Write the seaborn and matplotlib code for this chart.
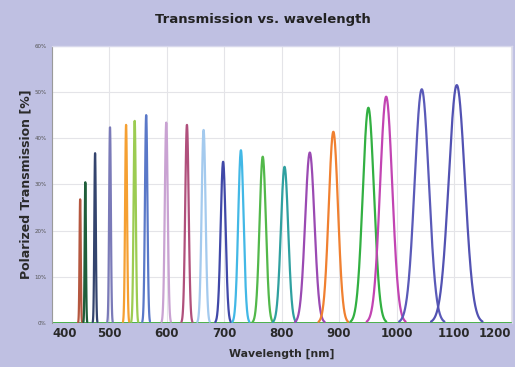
import numpy as np
import pandas as pd
import matplotlib
matplotlib.use("Agg")
import matplotlib.pyplot as plt
import seaborn as sns

# ---- data ----
centers = [449, 458, 475, 501, 529, 544, 564, 599, 635, 664,
           698, 729, 767, 805, 849, 890, 951, 982, 1044, 1105]
peaks = [26.8, 30.5, 36.8, 42.4, 42.9, 43.8, 45.0, 43.4, 42.9, 41.8,
         34.9, 37.4, 36.0, 33.8, 36.9, 41.4, 46.6, 49.0, 50.6, 51.5]
fwhm = [2.5, 2.5, 3, 3.5, 4, 4.5, 5, 6, 7, 8,
        10, 11, 13, 15, 19, 19, 23, 25, 29, 33]
colors = ["#b5573f", "#1f5e3a", "#34446e", "#7a7ab8", "#f5a032", "#9ccc52",
          "#5a78c8", "#c9a2d2", "#b0507c", "#a4caee", "#4048a8", "#42b8e6",
          "#52b84a", "#2fa0a0", "#9a4ab2", "#f08030", "#32b042", "#c244b2",
          "#5a5ab8", "#5252b2"]
x_ticks = [400, 500, 600, 700, 800, 900, 1000, 1100, 1200]
y_ticks = [0, 10, 20, 30, 40, 50, 60]

# ---- build curves ----
rows = []
for i, (c, p, w) in enumerate(zip(centers, peaks, fwhm)):
    s = w / 2.3548
    wl = np.arange(c - 3.2 * s, c + 3.2 * s + 0.01, min(0.2, s / 8))
    t = p * np.exp(-0.5 * ((wl - c) / s) ** 2)
    for a, b in zip(wl, t):
        rows.append((i, a, b))
df = pd.DataFrame(rows, columns=["filter", "wavelength", "transmission"])

sns.set_theme(style="white")
bg = "#bfc0e2"
fig = plt.figure(figsize=(5.15, 3.67), dpi=100, facecolor=bg)
ax = fig.add_axes([0.101, 0.120, 0.893, 0.755])
ax.set_facecolor("white")

ax.set_xlim(400, 1201)
ax.set_ylim(0, 60)
ax.set_xticks(x_ticks)
ax.set_yticks(y_ticks)
ax.grid(True, color="#e4e4e8", linewidth=0.8)
ax.set_axisbelow(True)

ax.axhline(0, color="#3aa83a", linewidth=2.0, zorder=1)
sns.lineplot(data=df, x="wavelength", y="transmission", hue="filter",
             palette=colors, linewidth=1.6, legend=False, ax=ax,
             estimator=None, sort=False, zorder=3)

labels = ax.set_xticklabels([str(v) for v in x_ticks], fontsize=8.5,
                            fontweight="bold", color="#2a2a2a")
labels[0].set_horizontalalignment("left")
labels[-1].set_horizontalalignment("right")
ax.set_yticklabels([f"{v}%" for v in y_ticks], fontsize=4,
                   color="#555555")
ax.tick_params(axis="x", length=0, pad=3)
ax.tick_params(axis="y", length=2, pad=2, color="#888888")

for side in ["top", "right"]:
    ax.spines[side].set_color("#d8d8ec")
    ax.spines[side].set_linewidth(1.0)
ax.spines["left"].set_color("#9a9a9a")
ax.spines["left"].set_linewidth(0.8)
ax.spines["bottom"].set_visible(False)

ax.set_xlabel("Wavelength [nm]", fontsize=7.8, fontweight="bold",
              color="#2a2a2a", labelpad=6)
ax.set_ylabel("Polarized Transmission [%]", fontsize=9,
              fontweight="bold", color="#2a2a2a")
ax.yaxis.set_label_coords(-0.042, 0.5)
fig.text(0.51, 0.948, "Transmission vs. wavelength", ha="center",
         va="center", fontsize=9.5, fontweight="bold", color="#222222")

fig.savefig("out.png", dpi=100, facecolor=bg)
